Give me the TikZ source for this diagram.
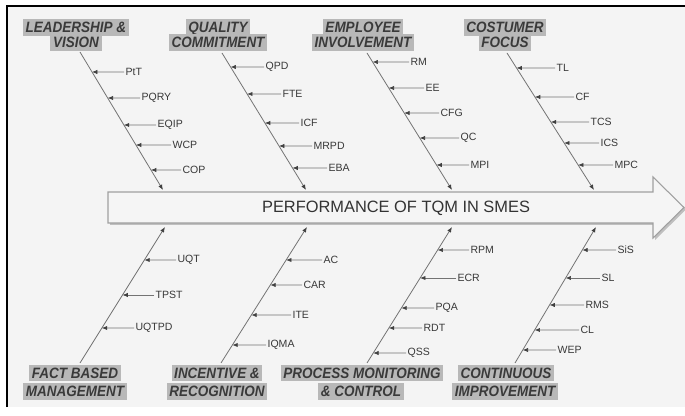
\documentclass[tikz,border=0pt]{standalone}
\usepackage{fontspec}
\setmainfont{Liberation Sans}
\newfontfamily\headfont[FakeStretch=0.9]{Liberation Sans}
\usetikzlibrary{arrows.meta,calc}
\definecolor{panel}{RGB}{244,244,244}
\definecolor{headbg}{RGB}{184,184,184}
\definecolor{headtx}{RGB}{58,58,58}
\definecolor{bonegray}{RGB}{115,115,115}
\definecolor{arrowline}{RGB}{160,160,160}

\tikzset{
  cat/.style={fill=headbg, text=headtx, font=\headfont\bfseries\itshape\fontsize{11.25}{13}\selectfont, inner xsep=2pt, inner ysep=2pt, text height=8.1pt, text depth=0pt},
  tag/.style={anchor=west, text=black!78, font=\fontsize{7.9}{9}\selectfont, inner sep=1pt},
  bone/.style={draw=bonegray, line width=0.6pt, -{Latex[length=4pt,width=3.2pt,color=black!75]}},
  rib/.style={draw=bonegray, line width=0.5pt, -{Latex[length=4pt,width=3.2pt,color=black!75]}},
}

\begin{document}
\begin{tikzpicture}[x=0.75pt,y=0.75pt,yscale=-1,xscale=1]
		\useasboundingbox (0,0) rectangle (685,416);
		\fill[panel] (7,6) rectangle (685,407);
		\draw[line width=1.5pt] (7,407) -- (7,6) -- (685,6);
		% main arrow
		\fill[black!25] (110,194) -- (655,194) -- (655,179) -- (686,209.5) -- (655,240) -- (655,225) -- (110,225) -- cycle;
		\draw[arrowline, line width=0.8pt, fill=black!4] (108,192) -- (653,192) -- (653,177) -- (684,207.5) -- (653,238) -- (653,223) -- (108,223) -- cycle;
		\node[text=black!80, font=\fontsize{12.3}{14}\selectfont] (title) at (396,208) {PERFORMANCE OF TQM IN SMES};
		% top causes
		\node[cat] (lvA) at (76,27.5) {LEADERSHIP \&};
		\node[cat] (lvB) at (76,42.5) {VISION};
		\coordinate (lvTop) at (80,52);
		\coordinate (lvBot) at (163,190);
		\draw[bone] (lvTop) -- (lvBot);
		\foreach \y/\x/\t [count=\i] in {72/124/PtT, 98/140/PQRY, 125/156/EQIP, 145/171/WCP, 170/181/COP}{
			\coordinate (lvR\i) at ($(lvTop)!{(\y-52)/138}!(lvBot)$);
			\node[tag] (lvT\i) at (\x,\y) {\t};
			\draw[rib] (lvT\i) -- (lvR\i);
		}
		\node[cat] (qcA) at (218,27.5) {QUALITY};
		\node[cat] (qcB) at (218,42.5) {COMMITMENT};
		\coordinate (qcTop) at (222,53);
		\coordinate (qcBot) at (306,190);
		\draw[bone] (qcTop) -- (qcBot);
		\foreach \y/\x/\t [count=\i] in {67/264/QPD, 94/281/FTE, 123/299/ICF, 146/312/MRPD, 168/327/EBA}{
			\coordinate (qcR\i) at ($(qcTop)!{(\y-53)/137}!(qcBot)$);
			\node[tag] (qcT\i) at (\x,\y) {\t};
			\draw[rib] (qcT\i) -- (qcR\i);
		}
		\node[cat] (eiA) at (363,27.5) {EMPLOYEE};
		\node[cat] (eiB) at (363,42.5) {INVOLVEMENT};
		\coordinate (eiTop) at (367,53);
		\coordinate (eiBot) at (452,190);
		\draw[bone] (eiTop) -- (eiBot);
		\foreach \y/\x/\t [count=\i] in {62/409/RM, 88/424/EE, 113/439/CFG, 138/459/QC, 165/469/MPI}{
			\coordinate (eiR\i) at ($(eiTop)!{(\y-53)/137}!(eiBot)$);
			\node[tag] (eiT\i) at (\x,\y) {\t};
			\draw[rib] (eiT\i) -- (eiR\i);
		}
		\node[cat] (cfA) at (505,27.5) {COSTUMER};
		\node[cat] (cfB) at (505,42.5) {FOCUS};
		\coordinate (cfTop) at (507,53);
		\coordinate (cfBot) at (594,190);
		\draw[bone] (cfTop) -- (cfBot);
		\foreach \y/\x/\t [count=\i] in {68/555/TL, 97/574/CF, 122/589/TCS, 143/599/ICS, 165/613/MPC}{
			\coordinate (cfR\i) at ($(cfTop)!{(\y-53)/137}!(cfBot)$);
			\node[tag] (cfT\i) at (\x,\y) {\t};
			\draw[rib] (cfT\i) -- (cfR\i);
		}
		% bottom causes
		\node[cat] (fbA) at (75,373) {FACT BASED};
		\node[cat] (fbB) at (75,391.5) {MANAGEMENT};
		\coordinate (fbBot) at (80,363);
		\coordinate (fbTop) at (165,227);
		\draw[bone] (fbBot) -- (fbTop);
		\foreach \y/\x/\t [count=\i] in {260/176/UQT, 295/154/TPST, 328/134/UQTPD}{
			\coordinate (fbR\i) at ($(fbBot)!{(363-\y)/136}!(fbTop)$);
			\node[tag] (fbT\i) at (\x,\y) {\t};
			\draw[rib] (fbT\i) -- (fbR\i);
		}
		\node[cat] (irA) at (217,373) {INCENTIVE \&};
		\node[cat] (irB) at (217,391.5) {RECOGNITION};
		\coordinate (irBot) at (221,363);
		\coordinate (irTop) at (307,227);
		\draw[bone] (irBot) -- (irTop);
		\foreach \y/\x/\t [count=\i] in {260/322/AC, 285/302/CAR, 315/291/ITE, 345/266/IQMA}{
			\coordinate (irR\i) at ($(irBot)!{(363-\y)/136}!(irTop)$);
			\node[tag] (irT\i) at (\x,\y) {\t};
			\draw[rib] (irT\i) -- (irR\i);
		}
		\node[cat] (pmA) at (362,373) {PROCESS MONITORING};
		\node[cat] (pmB) at (361,391.5) {\& CONTROL};
		\coordinate (pmBot) at (367,363);
		\coordinate (pmTop) at (452,227);
		\draw[bone] (pmBot) -- (pmTop);
		\foreach \y/\x/\t [count=\i] in {250/469/RPM, 278/456/ECR, 308/434/PQA, 328/422/RDT, 353/406/QSS}{
			\coordinate (pmR\i) at ($(pmBot)!{(363-\y)/136}!(pmTop)$);
			\node[tag] (pmT\i) at (\x,\y) {\t};
			\draw[rib] (pmT\i) -- (pmR\i);
		}
		\node[cat] (ciA) at (506,373) {CONTINUOUS};
		\node[cat] (ciB) at (505,391.5) {IMPROVEMENT};
		\coordinate (ciBot) at (515,363);
		\coordinate (ciTop) at (596,227);
		\draw[bone] (ciBot) -- (ciTop);
		\foreach \y/\x/\t [count=\i] in {250/616/SiS, 278/600/SL, 305/584/RMS, 330/579/CL, 350/556/WEP}{
			\coordinate (ciR\i) at ($(ciBot)!{(363-\y)/136}!(ciTop)$);
			\node[tag] (ciT\i) at (\x,\y) {\t};
			\draw[rib] (ciT\i) -- (ciR\i);
		}
	\end{tikzpicture}
\end{document}
